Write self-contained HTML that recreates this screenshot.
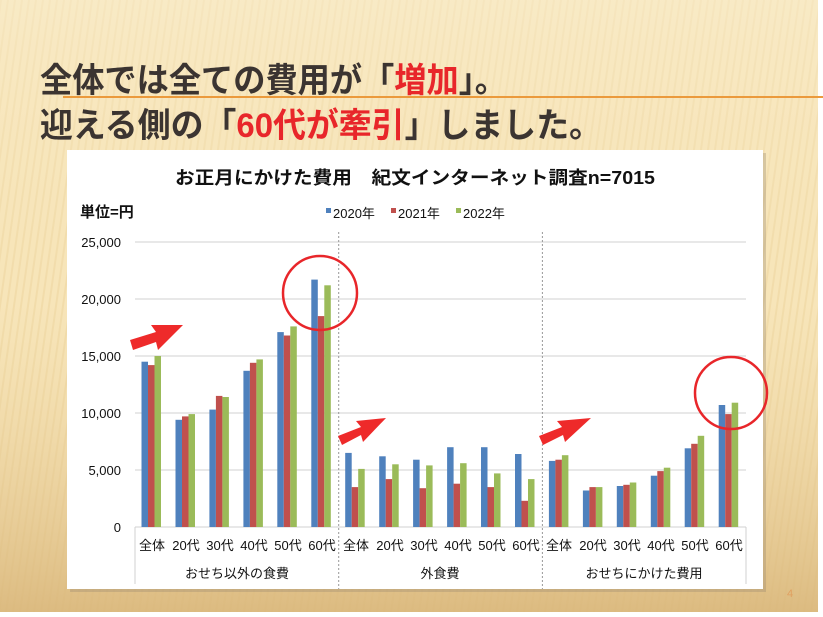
<!DOCTYPE html>
<html><head><meta charset="utf-8"><style>
html,body{margin:0;padding:0;width:823px;height:617px;overflow:hidden;background:#fff}
</style></head><body>
<svg width="823" height="617" viewBox="0 0 823 617" xmlns="http://www.w3.org/2000/svg" font-family="'Liberation Sans','Noto Sans CJK JP',sans-serif">
<defs>
<pattern id="st" width="7" height="617" patternUnits="userSpaceOnUse" patternTransform="skewX(-8)">
<rect width="7" height="617" fill="#f8e7bd"/><rect x="0" width="2" height="617" fill="#efd7a4" opacity="0.7"/>
</pattern>
<linearGradient id="bg" x1="0" y1="0" x2="0" y2="1">
<stop offset="0" stop-color="#f9eccb" stop-opacity="0.6"/><stop offset="0.5" stop-color="#f3dca8" stop-opacity="0.2"/><stop offset="1" stop-color="#d9b67a" stop-opacity="0.9"/>
</linearGradient>
</defs>
<rect x="0" y="0" width="818" height="612" fill="url(#st)"/>
<rect x="0" y="0" width="818" height="612" fill="url(#bg)"/>
<line x1="63" y1="97" x2="823" y2="97" stroke="#eb9a3c" stroke-width="2"/>
<g font-weight="bold" font-size="34" fill="#3b3431">
<text x="40" y="92" textLength="467" lengthAdjust="spacingAndGlyphs">全体では全ての費用が「<tspan fill="#e8262a">増加</tspan>」。</text>
<text x="40" y="137" textLength="562" lengthAdjust="spacingAndGlyphs">迎える側の「<tspan fill="#e8262a">60代が牽引</tspan>」しました。</text>
</g>
<rect x="70" y="153" width="696" height="439" fill="#9a8a70" opacity="0.35"/>
<rect x="67" y="150" width="696" height="439" fill="#fff"/>
<text x="175" y="184" font-size="18" font-weight="bold" fill="#111" textLength="480" lengthAdjust="spacingAndGlyphs">お正月にかけた費用　紀文インターネット調査n=7015</text>
<text x="80" y="217" font-size="15" font-weight="bold" fill="#111">単位=円</text>
<g font-size="13" fill="#111">
<rect x="326" y="208" width="5" height="5" fill="#4f81bd"/><text x="333" y="218">2020年</text>
<rect x="391" y="208" width="5" height="5" fill="#c0504d"/><text x="398" y="218">2021年</text>
<rect x="456" y="208" width="5" height="5" fill="#9bbb59"/><text x="463" y="218">2022年</text>
</g>
<g stroke="#d0d0d0" stroke-width="1">
<line x1="135" y1="242" x2="746" y2="242"/><line x1="135" y1="299" x2="746" y2="299"/>
<line x1="135" y1="356" x2="746" y2="356"/><line x1="135" y1="413" x2="746" y2="413"/>
<line x1="135" y1="470" x2="746" y2="470"/><line x1="135" y1="527" x2="746" y2="527"/>
<line x1="135" y1="527" x2="135" y2="584"/><line x1="746" y1="527" x2="746" y2="584"/>
</g>
<g stroke="#999" stroke-dasharray="2,2"><line x1="338.7" y1="232" x2="338.7" y2="589"/><line x1="542.4" y1="232" x2="542.4" y2="589"/></g>
<g font-size="13" fill="#111" text-anchor="end">
<text x="121" y="247">25,000</text><text x="121" y="304">20,000</text><text x="121" y="361">15,000</text>
<text x="121" y="418">10,000</text><text x="121" y="475">5,000</text><text x="121" y="532">0</text>
</g>
<g transform="translate(0,527) scale(1,-1)">
<g fill="#4f81bd">
<rect x="141.5" width="6.5" height="165.3"/><rect x="175.5" width="6.5" height="107.2"/><rect x="209.4" width="6.5" height="117.4"/><rect x="243.4" width="6.5" height="156.2"/><rect x="277.3" width="6.5" height="194.9"/><rect x="311.3" width="6.5" height="247.4"/>
<rect x="345.2" width="6.5" height="74.1"/><rect x="379.2" width="6.5" height="70.7"/><rect x="413.1" width="6.5" height="67.3"/><rect x="447.1" width="6.5" height="79.8"/><rect x="481" width="6.5" height="79.8"/><rect x="515" width="6.5" height="73"/>
<rect x="548.9" width="6.5" height="66.1"/><rect x="582.9" width="6.5" height="36.5"/><rect x="616.8" width="6.5" height="41"/><rect x="650.8" width="6.5" height="51.3"/><rect x="684.7" width="6.5" height="78.7"/><rect x="718.7" width="6.5" height="122"/>
</g>
<g fill="#c0504d">
<rect x="148" width="6.5" height="161.9"/><rect x="182" width="6.5" height="110.6"/><rect x="215.9" width="6.5" height="131.1"/><rect x="249.9" width="6.5" height="164.2"/><rect x="283.8" width="6.5" height="191.5"/><rect x="317.8" width="6.5" height="210.9"/>
<rect x="351.7" width="6.5" height="39.9"/><rect x="385.7" width="6.5" height="47.9"/><rect x="419.6" width="6.5" height="38.8"/><rect x="453.6" width="6.5" height="43.3"/><rect x="487.5" width="6.5" height="39.9"/><rect x="521.5" width="6.5" height="26.2"/>
<rect x="555.4" width="6.5" height="67.3"/><rect x="589.4" width="6.5" height="39.9"/><rect x="623.3" width="6.5" height="42.2"/><rect x="657.3" width="6.5" height="55.9"/><rect x="691.2" width="6.5" height="83.2"/><rect x="725.2" width="6.5" height="112.9"/>
</g>
<g fill="#9bbb59">
<rect x="154.5" width="6.5" height="171"/><rect x="188.5" width="6.5" height="112.9"/><rect x="222.4" width="6.5" height="130"/><rect x="256.4" width="6.5" height="167.6"/><rect x="290.3" width="6.5" height="200.6"/><rect x="324.3" width="6.5" height="241.7"/>
<rect x="358.2" width="6.5" height="58.1"/><rect x="392.2" width="6.5" height="62.7"/><rect x="426.1" width="6.5" height="61.6"/><rect x="460.1" width="6.5" height="63.8"/><rect x="494" width="6.5" height="53.6"/><rect x="528" width="6.5" height="47.9"/>
<rect x="561.9" width="6.5" height="71.8"/><rect x="595.9" width="6.5" height="39.9"/><rect x="629.8" width="6.5" height="44.5"/><rect x="663.8" width="6.5" height="59.3"/><rect x="697.7" width="6.5" height="91.2"/><rect x="731.7" width="6.5" height="124.3"/>
</g>
</g>
<g font-size="13" fill="#111" text-anchor="middle">
<text x="152" y="550">全体</text><text x="186" y="550">20代</text><text x="220" y="550">30代</text><text x="254" y="550">40代</text><text x="288" y="550">50代</text><text x="322" y="550">60代</text>
<text x="356" y="550">全体</text><text x="390" y="550">20代</text><text x="424" y="550">30代</text><text x="458" y="550">40代</text><text x="492" y="550">50代</text><text x="526" y="550">60代</text>
<text x="559" y="550">全体</text><text x="593" y="550">20代</text><text x="627" y="550">30代</text><text x="661" y="550">40代</text><text x="695" y="550">50代</text><text x="729" y="550">60代</text>
<text x="237" y="578">おせち以外の食費</text><text x="440" y="578">外食費</text><text x="644" y="578">おせちにかけた費用</text>
</g>
<g fill="none" stroke="#e8262a" stroke-width="2.5">
<circle cx="320" cy="293" r="37"/><circle cx="731" cy="393" r="36"/>
</g>
<g fill="#ee2a2a">
<polygon points="130,340 156,332 151,325 183,325 158,350 156,342 133,350"/>
<polygon points="338,436 361,427 356,421 386,418 363,442 361,435 342,445"/>
<polygon points="539,436 562,427 557,421 591,418 565,442 563,435 543,445"/>
</g>
<text x="787" y="597" font-size="11" fill="#e0a060">4</text>
</svg>
</body></html>
